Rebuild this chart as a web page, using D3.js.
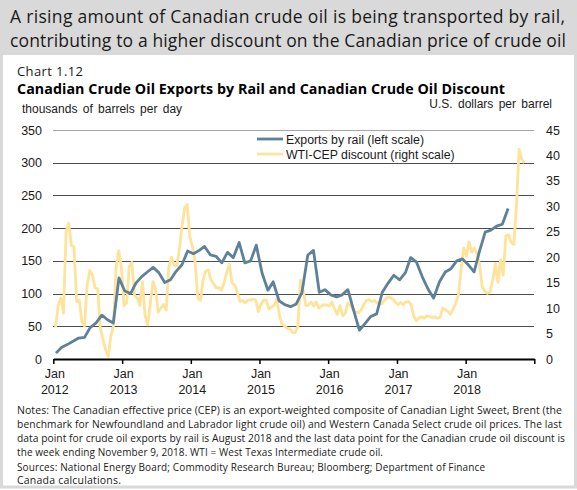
<!DOCTYPE html>
<html>
<head>
<meta charset="utf-8">
<script src="https://cdn.jsdelivr.net/npm/d3@7/dist/d3.min.js"></script>
<style>
  html, body { margin: 0; padding: 0; background: #ffffff; }
  svg { display: block; }
</style>
</head>
<body>
<svg id="chart" width="577" height="490"></svg>
<script>
// ---------------- DATA ----------------
// Exports by rail, thousands of barrels per day, monthly Jan 2012 - Aug 2018
const railStart = [2012, 0];
const railValues = [
  9, 18, 22, 27, 32, 33, 48, 55, 67, 60, 55, 124,
  104, 100, 116, 126, 133, 140, 132, 117, 121, 134, 144, 165,
  161, 166, 172, 159, 157, 147, 163, 155, 178, 147, 150, 174,
  131, 105, 118, 89, 83, 80, 84, 102, 159, 166, 102, 106,
  98, 95, 98, 106, 75, 44, 54, 65, 69, 102, 116, 128,
  121, 132, 155, 148, 126, 107, 93, 118, 133, 138, 150, 153,
  144, 133, 164, 194, 197, 203, 206, 230
];
// WTI-CEP discount, US$ per barrel, every second week, week ending Jan 13 2012 - Nov 9 2018
const discountStart = "2012-01-13";
const discountStepDays = 14;
const discountValues = [
  6.2, 10.5, 12.0, 9.0, 25.0, 26.7, 22.3, 22.0, 11.3, 11.6,
  7.3, 6.5, 14.5, 17.4, 16.5, 14.0, 13.8, 6.0, 3.9, 1.8,
  0.5, 4.5, 6.5, 18.0, 21.3, 18.0, 10.5, 11.0, 18.2, 19.0,
  12.5, 12.0, 10.5, 15.2, 8.5, 6.7, 11.0, 15.2, 13.7, 9.2,
  10.0, 10.7, 9.6, 18.0, 20.0, 18.5, 18.3, 21.5, 26.0, 29.7,
  30.4, 24.0, 22.0, 19.0, 12.0, 11.5, 15.5, 17.3, 17.5, 15.5,
  14.8, 14.0, 14.0, 13.5, 15.0, 17.0, 18.6, 15.0, 14.5, 13.2,
  11.3, 11.5, 11.0, 11.5, 11.6, 11.8, 11.6, 9.3, 10.7, 11.6,
  11.6, 9.8, 10.2, 10.5, 11.8, 8.6, 6.8, 6.5, 6.0, 5.9,
  5.2, 5.2, 6.4, 15.5, 13.6, 10.5, 10.6, 11.2, 10.4, 11.2,
  10.0, 10.4, 10.7, 10.6, 10.4, 11.2, 9.7, 8.8, 10.5, 8.5,
  9.0, 11.0, 10.5, 9.7, 9.2, 9.1, 9.6, 10.6, 11.5, 11.7,
  11.3, 11.5, 11.1, 10.7, 10.9, 11.6, 12.1, 12.1, 11.8, 11.2,
  10.7, 11.1, 10.7, 11.2, 11.3, 10.7, 8.4, 7.5, 8.1, 8.3,
  8.0, 8.5, 8.3, 8.1, 8.3, 8.0, 8.2, 10.0, 9.7, 9.3,
  8.8, 9.8, 11.0, 12.7, 17.6, 21.8, 20.3, 23.0, 21.0, 21.8,
  20.8, 18.5, 14.2, 13.3, 12.9, 13.2, 15.5, 18.8, 15.0, 19.5,
  16.5, 24.2, 24.4, 22.9, 22.5, 30.0, 41.2, 39.3, 38.5
];
const leftTicks = [0, 50, 100, 150, 200, 250, 300, 350];
const rightTicks = [0, 5, 10, 15, 20, 25, 30, 35, 40, 45];
const yearTicks = [2012, 2013, 2014, 2015, 2016, 2017, 2018];
const seriesNames = ["Exports by rail (left scale)", "WTI-CEP discount (right scale)"];
const bannerLines = [
  "A rising amount of Canadian crude oil is being transported by rail,",
  "contributing to a higher discount on the Canadian price of crude oil"
];
const chartNumber = "Chart 1.12";
const chartTitle = "Canadian Crude Oil Exports by Rail and Canadian Crude Oil Discount";
const leftUnit = "thousands of barrels per day";
const rightUnit = "U.S. dollars per barrel";
const noteLines = [
  "Notes: The Canadian effective price (CEP) is an export-weighted composite of Canadian Light Sweet, Brent (the",
  "benchmark for Newfoundland and Labrador light crude oil) and Western Canada Select crude oil prices. The last",
  "data point for crude oil exports by rail is August 2018 and the last data point for the Canadian crude oil discount is",
  "the week ending November 9, 2018. WTI = West Texas Intermediate crude oil."
];
const sourceLines = [
  "Sources: National Energy Board; Commodity Research Bureau; Bloomberg; Department of Finance",
  "Canada calculations."
];

// ---------------- BUILD ----------------
const railData = railValues.map((v, i) => ({ date: new Date(railStart[0], railStart[1] + i, 15), value: v }));
const d0 = d3.timeParse("%Y-%m-%d")(discountStart);
const discountData = discountValues.map((v, i) => ({ date: d3.timeDay.offset(d0, i * discountStepDays), value: v }));

const svg = d3.select("#chart");
const W = 577, H = 490;
const gothic = "'Open Sans', 'Noto Sans', sans-serif";
const arial = "'Liberation Sans', Arial, sans-serif";

// frame + banner
svg.append("rect").attr("x", 0).attr("y", 0).attr("width", W).attr("height", H).attr("fill", "#ffffff");
svg.append("rect").attr("x", 1.5).attr("y", 1.5).attr("width", W - 3).attr("height", H - 4.5)
  .attr("fill", "none").attr("stroke", "#d9d9d9").attr("stroke-width", 3);
svg.append("rect").attr("x", 0).attr("y", 0).attr("width", W).attr("height", 55).attr("fill", "#d9d9d9");

function fitText(sel, target) {
  // shrink font until the natural width does not exceed the target, then set exact length
  let fs = +sel.attr("font-size");
  let w = sel.node().getComputedTextLength();
  while (w > target && fs > 6) {
    fs -= 0.25;
    sel.attr("font-size", fs);
    w = sel.node().getComputedTextLength();
  }
  sel.attr("textLength", target).attr("lengthAdjust", "spacing");
}

const bannerLens = [555, 556];
bannerLines.forEach((t, i) => {
  const s = svg.append("text").attr("x", 10).attr("y", 23 + i * 24)
    .attr("font-family", gothic).attr("font-size", 17.5).attr("fill", "#1a1a1a")
    .text(t);
  fitText(s, bannerLens[i]);
});

const cn = svg.append("text").attr("x", 17).attr("y", 76).attr("font-family", gothic).attr("font-size", 13)
  .attr("fill", "#1a1a1a").text(chartNumber);
fitText(cn, 66);
const ct = svg.append("text").attr("x", 17).attr("y", 94).attr("font-family", gothic).attr("font-size", 14.5)
  .attr("font-weight", "bold").attr("fill", "#000").text(chartTitle);
fitText(ct, 488);

svg.append("text").attr("x", 22).attr("y", 113).attr("font-family", arial).attr("font-size", 12)
  .attr("fill", "#1a1a1a").attr("word-spacing", 2).text(leftUnit);
svg.append("text").attr("x", 552).attr("y", 108).attr("text-anchor", "end").attr("font-family", arial)
  .attr("font-size", 12).attr("fill", "#1a1a1a").attr("word-spacing", 2).text(rightUnit);

// scales
const x = d3.scaleTime().domain([new Date(2012, 0, 1), new Date(2019, 0, 1)]).range([53.3, 534.3]);
const yL = d3.scaleLinear().domain([0, 350]).range([359, 130]);
const yR = d3.scaleLinear().domain([0, 45]).range([359, 130]);

// gridlines
const grid = svg.append("g");
leftTicks.filter(t => t > 0).forEach(t => {
  grid.append("line").attr("x1", 53).attr("x2", 534).attr("y1", Math.round(yL(t)) + 0.5).attr("y2", Math.round(yL(t)) + 0.5)
    .attr("stroke", t === 350 ? "#a6a6a6" : "#4d4d4d").attr("stroke-width", 1);
});

// left axis labels
const axL = svg.append("g").attr("transform", "translate(53,0)")
  .call(d3.axisLeft(yL).tickValues(leftTicks).tickSize(0).tickPadding(11));
axL.select(".domain").remove();
axL.selectAll("text").attr("font-family", arial).attr("font-size", 12.5).attr("fill", "#1a1a1a");

const axR = svg.append("g").attr("transform", "translate(534,0)")
  .call(d3.axisRight(yR).tickValues(rightTicks).tickSize(0).tickPadding(12));
axR.select(".domain").remove();
axR.selectAll("text").attr("font-family", arial).attr("font-size", 12.5).attr("fill", "#1a1a1a");

// x axis
const xTickDates = yearTicks.map(y => new Date(y, 0, 1)).concat([new Date(2019, 0, 1)]);
const axX = svg.append("g").attr("transform", "translate(0,359)")
  .call(d3.axisBottom(x).tickValues(xTickDates).tickSize(5).tickSizeOuter(0).tickFormat(() => ""));
axX.select(".domain").attr("stroke", "#000").attr("stroke-width", 2);
axX.selectAll(".tick line").attr("stroke", "#000").attr("stroke-width", 1.5);

const xl = svg.append("g");
yearTicks.forEach(y => {
  const px = x(new Date(y, 0, 1)) + 1.5;
  xl.append("text").attr("x", px).attr("y", 378).attr("text-anchor", "middle").attr("font-family", arial)
    .attr("font-size", 12.5).attr("fill", "#1a1a1a").text("Jan");
  xl.append("text").attr("x", px).attr("y", 394).attr("text-anchor", "middle").attr("font-family", arial)
    .attr("font-size", 12.5).attr("fill", "#1a1a1a").text(String(y));
});

// lines
const yellow = "#fee39b";
const blue = "#5c8199";
const lineR = d3.line().x(d => x(d.date)).y(d => yR(d.value));
const lineL = d3.line().x(d => x(d.date)).y(d => yL(d.value));
svg.append("path").datum(discountData).attr("d", lineR).attr("fill", "none")
  .attr("stroke", yellow).attr("stroke-width", 2.8).attr("stroke-linejoin", "round");
svg.append("path").datum(railData).attr("d", lineL).attr("fill", "none")
  .attr("stroke", blue).attr("stroke-width", 2.8).attr("stroke-linejoin", "round");

// legend
const legend = svg.append("g");
[blue, yellow].forEach((c, i) => {
  const ly = 139 + i * 15;
  legend.append("line").attr("x1", 257).attr("x2", 283).attr("y1", ly).attr("y2", ly)
    .attr("stroke", c).attr("stroke-width", 2.8);
  legend.append("text").attr("x", 286).attr("y", ly + 4.5).attr("font-family", arial).attr("font-size", 12.3)
    .attr("fill", "#1a1a1a").text(seriesNames[i]);
});

// notes
const noteLens = [545, 545, 548, 366];
noteLines.forEach((t, i) => {
  const s = svg.append("text").attr("x", 17).attr("y", 414 + i * 14).attr("font-family", gothic).attr("font-size", 10.5)
    .attr("fill", "#1a1a1a").text(t);
  fitText(s, noteLens[i]);
});
const srcLens = [468, 104];
sourceLines.forEach((t, i) => {
  const s = svg.append("text").attr("x", 17).attr("y", 471 + i * 12.5).attr("font-family", gothic).attr("font-size", 10.5)
    .attr("fill", "#1a1a1a").text(t);
  fitText(s, srcLens[i]);
});
</script>
</body>
</html>
